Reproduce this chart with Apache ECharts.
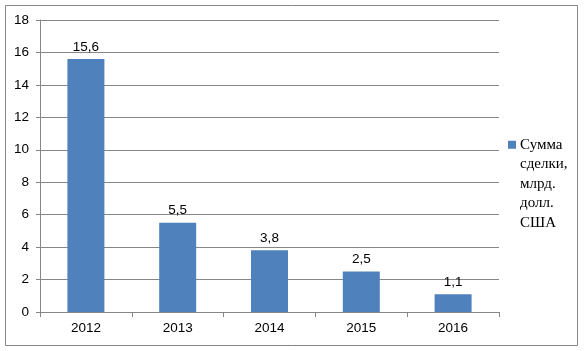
<!DOCTYPE html>
<html><head><meta charset="utf-8">
<script src="https://cdn.jsdelivr.net/npm/echarts@6/dist/echarts.min.js"></script>
<style>html,body{margin:0;padding:0;background:#fff}#c{width:584px;height:351px}</style>
</head><body><div id="c"></div>
<script>
const categories = ['2012', '2013', '2014', '2015', '2016'];
const values = [15.6, 5.5, 3.8, 2.5, 1.1];
const seriesName = 'Сумма сделки, млрд. долл. США';
const legendLines = ['Сумма', 'сделки,', 'млрд.', 'долл.', 'США'];
const yTicks = [0, 2, 4, 6, 8, 10, 12, 14, 16, 18];

const chart = echarts.init(document.getElementById('c'), null, {renderer: 'canvas'});
chart.setOption({
  animation: false,
  graphic: [{type: 'rect', shape: {x: 5.5, y: 5.5, width: 572, height: 340}, style: {fill: 'none', stroke: '#868686', lineWidth: 1}}],
  grid: {left: 40, top: 20, right: 85, bottom: 39},
  legend: {
    left: 503, top: 135, orient: 'vertical', itemWidth: 0, itemHeight: 0, icon: 'rect', padding: 0,
    data: [seriesName],
    formatter: function () { return '{sq|}{t|' + legendLines[0] + '}\n{t2|' + legendLines.slice(1).join('}\n{t2|') + '}'; },
    textStyle: {
      fontFamily: 'Liberation Serif', fontSize: 15, color: '#000', lineHeight: 19.5,
      rich: {
        sq: {width: 8, height: 8, backgroundColor: '#4f81bd', verticalAlign: 'middle'},
        t: {fontFamily: 'Liberation Serif', fontSize: 15, color: '#000', lineHeight: 19.5, padding: [0, 0, 0, 4]},
        t2: {fontFamily: 'Liberation Serif', fontSize: 15, color: '#000', lineHeight: 19.5, padding: [0, 0, 0, 12]}
      }
    }
  },
  xAxis: {
    type: 'category', data: categories,
    axisLine: {lineStyle: {color: '#868686'}},
    axisTick: {show: true, length: 5, lineStyle: {color: '#868686'}},
    axisLabel: {color: '#000', fontFamily: 'Liberation Sans', fontSize: 13.5, margin: 9}
  },
  yAxis: {
    type: 'value', min: 0, max: 18, interval: 2,
    axisLine: {show: true, lineStyle: {color: '#868686'}},
    axisTick: {show: true, length: 4, lineStyle: {color: '#868686'}},
    splitLine: {lineStyle: {color: '#868686'}},
    axisLabel: {color: '#000', fontFamily: 'Liberation Sans', fontSize: 13.5, margin: 11,
      formatter: function (v) { return yTicks.indexOf(v) >= 0 ? String(v) : ''; }}
  },
  series: [{
    name: seriesName, type: 'bar', data: values, barWidth: 37,
    itemStyle: {color: '#4f81bd'},
    label: {show: true, position: 'top', distance: 5, color: '#000', fontFamily: 'Liberation Sans', fontSize: 13.5,
      formatter: function (p) { return String(p.value).replace('.', ','); }}
  }]
});
</script></body></html>
